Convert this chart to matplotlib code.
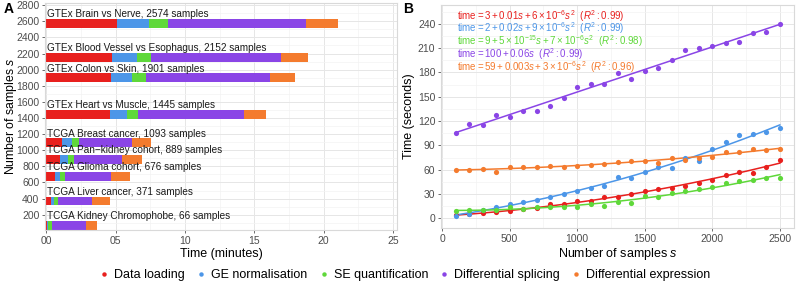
import numpy as np
import matplotlib
matplotlib.use("Agg")
import matplotlib.pyplot as plt
from matplotlib.ticker import FuncFormatter, MultipleLocator
from matplotlib.lines import Line2D

plt.rcParams['font.family'] = ['Liberation Sans', 'DejaVu Sans']
plt.rcParams['mathtext.fontset'] = 'custom'
plt.rcParams['mathtext.rm'] = 'Liberation Sans'
plt.rcParams['mathtext.it'] = 'Liberation Sans:italic'

# === data ===
steps = ["Data loading", "GE normalisation", "SE quantification",
         "Differential splicing", "Differential expression"]
colors = ["#e8201e", "#4c96e8", "#5fd83a", "#8a45e6", "#f47b2e"]

# panel A: per dataset stage durations (minutes)
datasets = ["GTEx Brain vs Nerve", "GTEx Blood Vessel vs Esophagus",
            "GTEx Colon vs Skin", "GTEx Heart vs Muscle",
            "TCGA Breast cancer", "TCGA Pan\u2212kidney cohort",
            "TCGA Glioma cohort", "TCGA Liver cancer",
            "TCGA Kidney Chromophobe"]
n_samples = [2574, 2152, 1901, 1445, 1093, 889, 676, 371, 66]
t_loading = [5.13, 4.77, 4.65, 4.60, 1.13, 0.96, 0.65, 0.36, 0.07]
t_ge = [2.28, 1.75, 1.56, 1.25, 0.72, 0.60, 0.31, 0.17, 0.07]
t_se = [1.35, 1.06, 0.98, 0.79, 0.52, 0.45, 0.39, 0.31, 0.27]
t_ds = [10.0, 9.35, 8.93, 7.60, 3.82, 3.46, 3.33, 2.47, 2.47]
t_de = [2.27, 1.94, 1.84, 1.59, 1.34, 1.46, 1.36, 1.29, 0.81]

# panel B: time (seconds) vs number of samples
s = list(range(100, 2600, 100))
y_loading = [3.7, 4.9, 6.1, 7.4, 9.0, 11.0, 13.0, 17.3, 17.3, 21.7, 21.7, 26.7, 25.9,
             29.6, 34.0, 35.8, 37.8, 39.5, 44.0, 47.3, 53.8, 57.2, 56.3, 63.7, 72.0]
y_ge = [2.8, 4.9, 10.2, 14.3, 17.3, 20.1, 23.0, 26.7, 30.0, 33.7, 37.4, 40.2, 50.6,
        49.4, 57.2, 63.3, 62.5, 74.0, 70.7, 85.2, 94.6, 102.8, 104.0, 106.5, 111.5]
y_se = [9.4, 9.8, 10.6, 10.2, 13.6, 11.5, 14.0, 14.0, 14.3, 14.2, 17.7, 15.2, 20.5,
        18.9, 27.5, 25.9, 30.9, 33.3, 35.8, 38.3, 44.0, 46.4, 47.3, 49.4, 49.4]
y_ds = [105, 116, 115, 127, 125, 132, 132, 139, 149, 162, 166, 166, 179,
        172, 182, 186, 195, 208, 210, 213, 216, 218, 229, 230, 240]
y_de = [59.3, 59.6, 60.9, 57.2, 63.0, 63.7, 63.7, 65.0, 63.7, 64.5, 65.8, 67.0, 69.5,
        70.7, 70.7, 68.3, 74.8, 72.4, 74.4, 76.0, 82.0, 81.4, 85.2, 84.3, 85.2]
fit_degree = [2, 2, 2, 1, 2]
equations = [
    r"$\mathrm{time}=3+0.01s+6\times10^{-6}s^{2}\ \ (R^{2}:0.99)$",
    r"$\mathrm{time}=2+0.02s+9\times10^{-6}s^{2}\ \ (R^{2}:0.99)$",
    r"$\mathrm{time}=9+5\times10^{-15}s+7\times10^{-6}s^{2}\ \ (R^{2}:0.98)$",
    r"$\mathrm{time}=100+0.06s\ \ (R^{2}:0.99)$",
    r"$\mathrm{time}=59+0.003s+3\times10^{-6}s^{2}\ \ (R^{2}:0.96)$",
]

fig = plt.figure(figsize=(7.96, 2.84), dpi=100)
axA = fig.add_axes([0.0565, 0.190, 0.4422, 0.799])
axB = fig.add_axes([0.554, 0.197, 0.4435, 0.785])

def style(ax):
    ax.set_facecolor("white")
    for sp in ax.spines.values():
        sp.set_color("#d9d9d9")
        sp.set_linewidth(0.8)
    ax.grid(True, which="major", color="#e6e6e6", linewidth=0.7)
    ax.grid(True, which="minor", color="#f3f3f3", linewidth=0.5)
    ax.set_axisbelow(True)
    ax.tick_params(which="major", length=2, width=0.6, color="#555555",
                   labelsize=7.5, labelcolor="#4d4d4d", pad=2)
    ax.tick_params(which="minor", length=0)

# === A: stacked bars ===
style(axA)
left = np.zeros(len(n_samples))
for vals, c in zip([t_loading, t_ge, t_se, t_ds, t_de], colors):
    axA.barh(n_samples, vals, left=left, height=110, color=c, linewidth=0)
    left += np.array(vals)
for name, n in zip(datasets, n_samples):
    axA.text(0.05, n + 75, f"{name}, {n} samples", fontsize=7.2,
             color="#1a1a1a", ha="left", va="baseline")
axA.set_xlim(-0.1, 25.3)
axA.set_ylim(10, 2825)
axA.set_xticks(range(0, 30, 5))
axA.xaxis.set_major_formatter(FuncFormatter(lambda v, p: f"{int(v):02d}"))
axA.xaxis.set_minor_locator(MultipleLocator(2.5))
axA.set_yticks(range(200, 3000, 200))
axA.yaxis.set_minor_locator(MultipleLocator(100))
axA.set_xlabel("Time (minutes)", fontsize=9, labelpad=2)
axA.set_ylabel("Number of samples $s$", fontsize=8.8, labelpad=0)
axA.yaxis.set_label_coords(-0.075, 0.5)

# === B: scaling with sample number ===
style(axB)
s_arr = np.array(s)
s_fine = np.linspace(100, 2500, 200)
for ys, c, deg in zip([y_loading, y_ge, y_se, y_ds, y_de], colors, fit_degree):
    coef = np.polyfit(s_arr, ys, deg)
    axB.plot(s_fine, np.polyval(coef, s_fine), color=c, linewidth=1.1, zorder=2)
    axB.scatter(s, ys, s=14, color=c, linewidths=0, zorder=3)
for i, (eq, c) in enumerate(zip(equations, colors)):
    axB.text(0.045, 0.952 - i * 0.057, eq, transform=axB.transAxes,
             fontsize=7.0, color=c, ha="left", va="center")
axB.set_xlim(-8, 2605)
axB.set_ylim(-12, 263)
axB.set_xticks(range(0, 3000, 500))
axB.xaxis.set_minor_locator(MultipleLocator(250))
axB.set_yticks(range(0, 270, 30))
axB.yaxis.set_minor_locator(MultipleLocator(15))
axB.set_xlabel("Number of samples $s$", fontsize=9, labelpad=2)
axB.set_ylabel("Time (seconds)", fontsize=9, labelpad=2)

fig.text(0.004, 0.955, "A", fontsize=10, fontweight="bold")
fig.text(0.506, 0.955, "B", fontsize=10, fontweight="bold")

handles = [Line2D([], [], marker="o", linestyle="", markersize=3.2,
                  markerfacecolor=c, markeredgewidth=0, label=l)
           for c, l in zip(colors, steps)]
fig.legend(handles=handles, loc="center", bbox_to_anchor=(0.508, 0.032),
           ncol=5, frameon=False, fontsize=9, handletextpad=0.3,
           columnspacing=0.8, handlelength=1.0)

fig.savefig("out.png", dpi=100)
